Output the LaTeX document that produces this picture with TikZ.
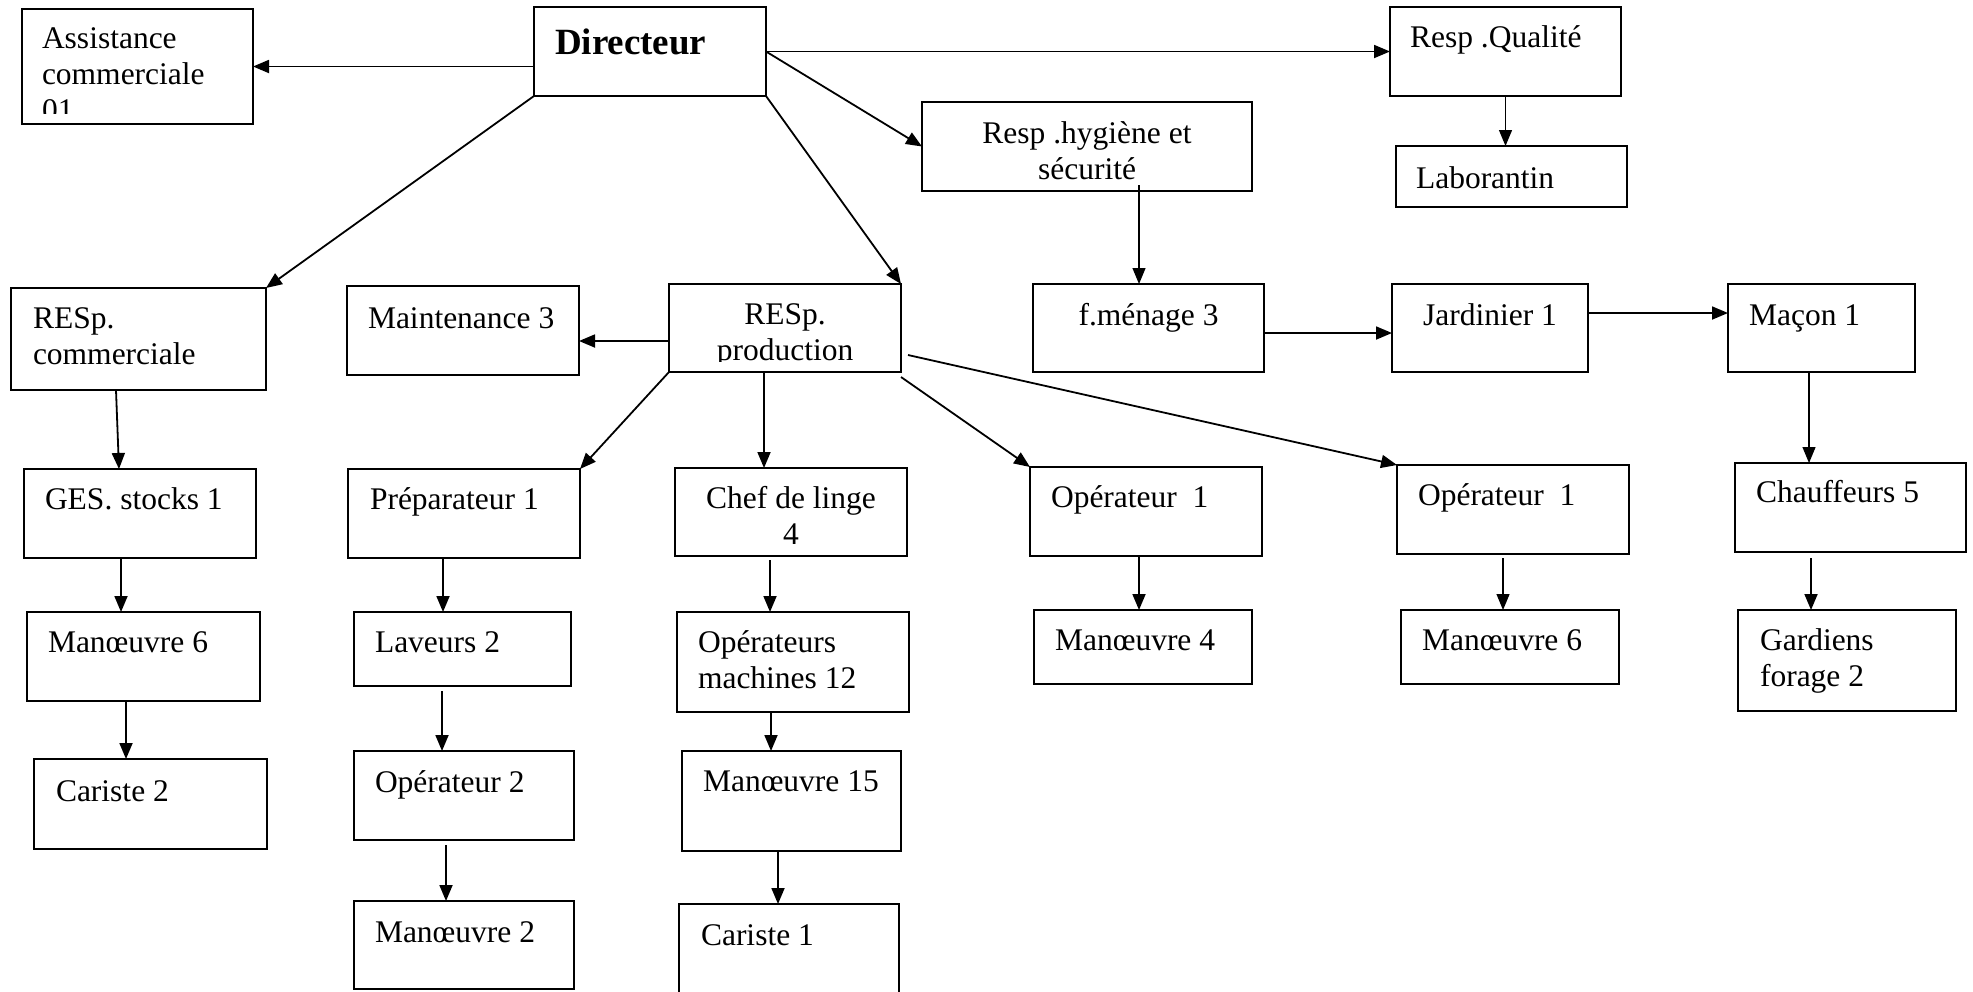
\documentclass[tikz,border=0pt]{standalone}
\usepackage{fontspec}
\setmainfont{Liberation Serif}
\usetikzlibrary{arrows.meta}
\newcommand\orgbox[5]{\node[box, minimum width={(#4-#2)*0.5pt}, minimum height={(#5-#3)*0.5pt}] (#1) at (#2,#3) {};}
\newcommand\llines[1]{\vtop{\halign{##\hfil\cr#1\crcr}}}
\newcommand\clines[1]{\vtop{\halign{\hfil##\hfil\cr#1\crcr}}}
\begin{document}
\begin{tikzpicture}[x=0.5pt,y=-0.5pt,
  box/.style={draw, line width=1.2pt, inner sep=0pt, outer sep=0pt, anchor=north west},
  txt/.style={inner sep=0pt, outer sep=0pt, font=\fontsize{15.75}{18}\selectfont},
  lt/.style={txt, anchor=base west},
  ct/.style={txt, anchor=base},
  conn/.style={line width=0.9pt, -{Triangle[length=8pt,width=6.5pt]}},
  thinconn/.style={line width=0.6pt, -{Triangle[length=8pt,width=6.5pt]}}]
\useasboundingbox (0,0) rectangle (1973,991);
% boxes
\orgbox{asst}{22}{9}{253}{124}
\orgbox{dir}{534}{7}{766}{96}
\orgbox{qual}{1390}{7}{1621}{96}
\orgbox{hyg}{922}{102}{1252}{191}
\orgbox{labo}{1396}{146}{1627}{207}
\orgbox{rcom}{11}{288}{266}{390}
\orgbox{maint}{347}{286}{579}{375}
\orgbox{prod}{669}{284}{901}{372}
\orgbox{fmen}{1033}{284}{1264}{372}
\orgbox{jard}{1392}{284}{1588}{372}
\orgbox{macon}{1728}{284}{1915}{372}
\orgbox{ges}{24}{469}{256}{558}
\orgbox{prep}{348}{469}{580}{558}
\orgbox{chef}{675}{468}{907}{556}
\orgbox{opa}{1030}{467}{1262}{556}
\orgbox{opb}{1397}{465}{1629}{554}
\orgbox{chauf}{1735}{463}{1966}{552}
\orgbox{mva}{27}{612}{260}{701}
\orgbox{lav}{354}{612}{571}{686}
\orgbox{opm}{677}{612}{909}{712}
\orgbox{mvd}{1034}{610}{1252}{684}
\orgbox{mvb}{1401}{610}{1619}{684}
\orgbox{gard}{1738}{610}{1956}{711}
\orgbox{cara}{34}{759}{267}{849}
\orgbox{opd}{354}{751}{574}{840}
\orgbox{mvq}{682}{751}{901}{851}
\orgbox{mvc}{354}{901}{574}{989}
\orgbox{carb}{679}{904}{899}{996}
% texts
\begin{scope}
\clip (22,9) rectangle (253,113);
\node[lt] (asst-t) at (42,48) {\llines{Assistance\cr commerciale\cr 01}};
\end{scope}
\node[lt, font=\fontsize{18.5}{21}\selectfont\bfseries] (dir-t) at (555,54) {Directeur};
\node[lt] (qual-t) at (1410,47) {Resp .Qualité};
\node[ct] (hyg-t) at (1087,143) {\clines{Resp .hygiène et\cr sécurité}};
\node[lt] (labo-t) at (1416,188) {Laborantin};
\node[lt] (rcom-t) at (33,328) {\llines{RESp.\cr commerciale}};
\node[lt] (maint-t) at (368,328) {Maintenance 3};
\begin{scope}
\clip (669,284) rectangle (901,361);
\node[ct] (prod-t) at (785,324) {\clines{RESp.\cr production}};
\end{scope}
\node[ct] (fmen-t) at (1148.5,325) {f.ménage 3};
\node[ct] (jard-t) at (1490,325) {Jardinier 1};
\node[lt] (macon-t) at (1749,325) {Maçon 1};
\node[lt] (ges-t) at (45,509) {GES. stocks 1};
\node[lt] (prep-t) at (370,509) {Préparateur 1};
\node[ct] (chef-t) at (791,508) {\clines{Chef de linge\cr 4}};
\node[lt] (opa-t) at (1051,507) {Opérateur~~1};
\node[lt] (opb-t) at (1418,505) {Opérateur~~1};
\node[lt] (chauf-t) at (1756,502) {Chauffeurs 5};
\node[lt] (mva-t) at (48,652) {Manœuvre 6};
\node[lt] (lav-t) at (375,652) {Laveurs 2};
\node[lt] (opm-t) at (698,652) {\llines{Opérateurs\cr machines 12}};
\node[lt] (mvd-t) at (1055,650) {Manœuvre 4};
\node[lt] (mvb-t) at (1422,650) {Manœuvre 6};
\node[lt] (gard-t) at (1760,650) {\llines{Gardiens\cr forage 2}};
\node[lt] (cara-t) at (56,801) {Cariste 2};
\node[lt] (opd-t) at (375,792) {Opérateur 2};
\node[lt] (mvq-t) at (703,791) {Manœuvre 15};
\node[lt] (mvc-t) at (375,942) {Manœuvre 2};
\node[lt] (carb-t) at (701,945) {Cariste 1};
% connectors
\draw[conn] (dir.west |- asst.east) -- (asst.east);
\draw[conn] (dir.east) -- (qual.west);
\draw[conn] (dir.east) -- (hyg.west);
\draw[conn] (dir.south east) -- (prod.north east);
\draw[conn] (dir.south west) -- (rcom.north east);
\draw[conn] ([yshift=-6.5pt]prod.west) -- ([yshift=-6.5pt]prod.west -| maint.east);
\draw[thinconn] ([xshift=26pt,yshift=3pt]hyg.south) -- ([xshift=26pt]hyg.south |- fmen.north);
\draw[thinconn] (qual.south) -- (qual.south |- labo.north);
\draw[conn] ([yshift=-2.5pt]fmen.east) -- ([yshift=-2.5pt]fmen.east -| jard.west);
\draw[conn] ([yshift=7.5pt]jard.east) -- ([yshift=7.5pt]jard.east -| macon.west);
\draw[thinconn] ([xshift=-6.25pt]macon.south) -- ([xshift=-6.25pt]macon.south |- chauf.north);
\draw[conn] ([xshift=-11.25pt]rcom.south) -- ([xshift=-10.5pt]ges.north);
\draw[conn] ([xshift=-9.5pt]ges.south) -- ([xshift=-9.5pt]ges.south |- mva.north);
\draw[conn] ([xshift=-8.75pt]mva.south) -- ([xshift=-8.75pt]mva.south |- cara.north);
\draw[conn] (prod.south west) -- (prep.north east);
\draw[conn] ([xshift=-10.5pt]prod.south) -- ([xshift=-10.5pt]prod.south |- chef.north);
\draw[conn] ([yshift=-2.5pt]prod.south east) -- (opa.north west);
\draw[conn] ([xshift=3.5pt,yshift=-13.5pt]prod.east) -- (opb.north west);
\draw[conn] ([xshift=-10.5pt]prep.south) -- ([xshift=-10.5pt]prep.south |- lav.north);
\draw[conn] ([xshift=-10.25pt,yshift=-2.5pt]lav.south) -- ([xshift=-10.25pt]lav.south |- opd.north);
\draw[conn] ([xshift=-9pt,yshift=-2.5pt]opd.south) -- ([xshift=-9pt]opd.south |- mvc.north);
\draw[conn] ([xshift=-10.5pt,yshift=-2pt]chef.south) -- ([xshift=-10.5pt]chef.south |- opm.north);
\draw[conn] ([xshift=-11pt]opm.south) -- ([xshift=-11pt]opm.south |- mvq.north);
\draw[conn] ([xshift=-6.75pt]mvq.south) -- ([xshift=-6.75pt]mvq.south |- carb.north);
\draw[conn] ([xshift=-3.5pt]opa.south) -- ([xshift=-3.5pt]opa.south |- mvd.north);
\draw[thinconn] ([xshift=-5pt,yshift=-2pt]opb.south) -- ([xshift=-5pt]opb.south |- mvb.north);
\draw[conn] ([xshift=-19.75pt,yshift=-3pt]chauf.south) -- ([xshift=-19.75pt]chauf.south |- gard.north);
\end{tikzpicture}
\end{document}
